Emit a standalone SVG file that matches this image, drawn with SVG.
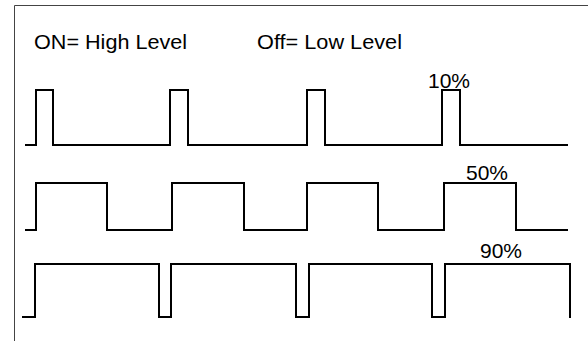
<svg xmlns="http://www.w3.org/2000/svg" width="588" height="341" viewBox="0 0 588 341">
<style>
.wave{fill:none;stroke:#000;stroke-width:2;stroke-linejoin:miter}
.frame{fill:none;stroke:#444;stroke-width:1}
text{font-family:"Liberation Sans",Arial,sans-serif;font-size:21px;fill:#000}
</style>
<rect width="588" height="341" fill="#fff"/>
<path class="frame" d="M14.5,341 V5.5 H588"/>
<g id="labels">
<text x="34" y="49" textLength="153" lengthAdjust="spacingAndGlyphs">ON= High Level</text>
<text x="257" y="49" textLength="145" lengthAdjust="spacingAndGlyphs">Off= Low Level</text>
</g>
<g id="wave10">
<path class="wave" d="M25,145 H36 V90 H53 V145 H170 V90 H188 V145 H307 V90 H325 V145 H442 V90 H460 V145 H568"/>
<text x="428" y="88">10%</text>
</g>
<g id="wave50">
<path class="wave" d="M25,230 H36 V183 H107 V230 H172 V183 H244 V230 H307 V183 H378 V230 H444 V183 H516 V230 H568"/>
<text x="466" y="180">50%</text>
</g>
<g id="wave90">
<path class="wave" d="M22,317 H35 V264 H159 V317 H171 V264 H296 V317 H309 V264 H432 V317 H445 V264 H570 V318"/>
<text x="480" y="258">90%</text>
</g>
<g id="connectors"></g>
</svg>
